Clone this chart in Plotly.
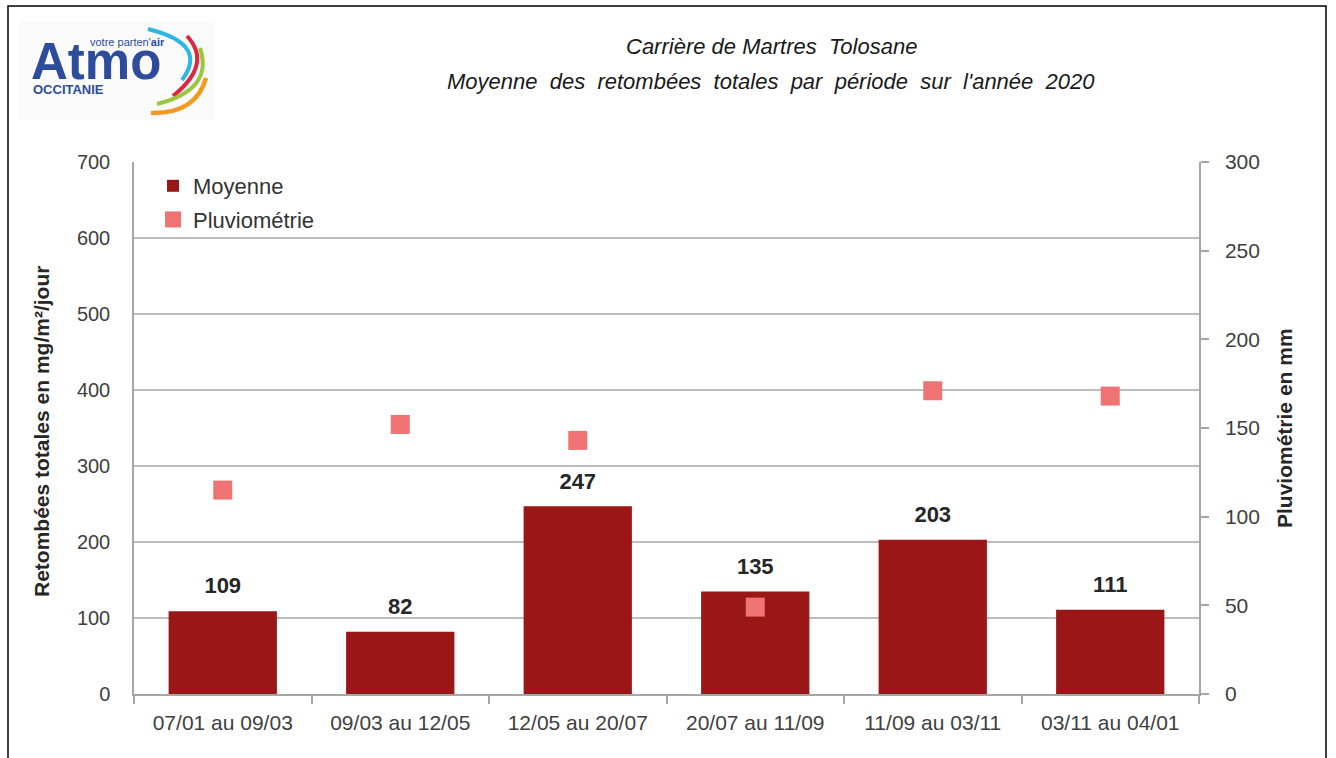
import plotly.graph_objects as go

periods = ["07/01 au 09/03", "09/03 au 12/05", "12/05 au 20/07",
           "20/07 au 11/09", "11/09 au 03/11", "03/11 au 04/01"]
moyenne = [109, 82, 247, 135, 203, 111]
pluvio = [115, 152, 143, 49, 171, 168]

W, H = 1336, 758
L, R, T, B = 134, 1199, 162, 694  # plot area in pixels


def px(x):
    return (x - L) / (R - L)


def py(y):
    return (B - y) / (B - T)


FONT = "Liberation Sans"
TXT = "#404040"

fig = go.Figure()
fig.add_trace(go.Bar(
    x=periods, y=moyenne, name="Moyenne", legendgroup="a",
    marker=dict(color="#9B1616", line=dict(width=0)),
    hoverinfo="x+y",
))
fig.add_trace(go.Scatter(
    x=periods, y=moyenne, mode="markers+text", showlegend=False,
    marker=dict(size=18, opacity=0), hoverinfo="skip",
    text=["<b>%d</b>" % v for v in moyenne], textposition="top center",
    textfont=dict(family=FONT, size=22, color="#262626"), cliponaxis=False,
))
fig.add_trace(go.Scatter(
    x=periods, y=pluvio, name="Pluviométrie", legendgroup="b", yaxis="y2",
    mode="markers",
    marker=dict(symbol="square", size=19, color="#F07373", line=dict(width=0)),
))

shapes = []
# outer frame
shapes.append(dict(type="rect", xref="paper", yref="paper",
                   x0=px(8), x1=px(1326), y0=py(775), y1=py(6),
                   line=dict(color="black", width=1.5), layer="above"))
# logo background
shapes.append(dict(type="rect", xref="paper", yref="paper",
                   x0=px(19), x1=px(215), y0=py(120), y1=py(21),
                   fillcolor="#FAFAFA", line=dict(width=0), layer="below"))


def qpath(s, c, e):
    return "M {} {} Q {} {} {} {}".format(px(s[0]), py(s[1]), px(c[0]), py(c[1]), px(e[0]), py(e[1]))


arcs = [
    ((148, 29), (209, 44), (182, 80), "#2DB7E4", 4),
    ((187, 36), (213, 64), (173, 96), "#E0263F", 4),
    ((200, 48), (214, 90), (157, 104), "#9CC63E", 4),
    ((206, 78), (196, 114), (151, 113), "#F29A1F", 4.5),
]
for s, c, e, col, w in arcs:
    shapes.append(dict(type="path", xref="paper", yref="paper",
                       path=qpath(s, c, e), line=dict(color=col, width=w)))


def ann(x, y, text, size, color, xanchor="center", angle=0, **kw):
    d = dict(x=px(x), y=py(y), xref="paper", yref="paper", showarrow=False,
             xanchor=xanchor, yanchor="middle", textangle=angle, text=text,
             font=dict(family=FONT, size=size, color=color))
    d.update(kw)
    return d


annotations = [
    ann(771, 47, "<i>Carrière de Martres  Tolosane</i>", 22, "#1a1a1a"),
    ann(771, 81, "<i>Moyenne  des  retombées  totales  par  période  sur  l'année  2020</i>", 22, "#1a1a1a"),
    ann(41, 432, "<b>Retombées totales en mg/m²/jour</b>", 21, "#262626", angle=-90),
    ann(1284, 428, "<b>Pluviométrie en mm</b>", 21, "#262626", angle=-90),
    # logo text
    ann(29, 61, "<b>Atmo</b>", 51, "#2D4C9C", xanchor="left", height=40, valign="middle"),
    ann(88, 42, "votre parten'<b>air</b>", 11, "#2D4C9C", xanchor="left"),
    ann(31, 90, "<b>OCCITANIE</b>", 13, "#2D4C9C", xanchor="left"),
]

fig.update_layout(
    width=W, height=H,
    margin=dict(l=L, r=W - R, t=T, b=H - B, pad=0),
    paper_bgcolor="white", plot_bgcolor="white",
    bargap=0.39,
    font=dict(family=FONT, size=20, color=TXT),
    showlegend=True,
    legend=dict(x=px(153), y=py(165), xanchor="left", yanchor="top",
                bgcolor="rgba(0,0,0,0)", font=dict(family=FONT, size=22, color="#333333"),
                traceorder="grouped", tracegroupgap=2, itemwidth=30),
    xaxis=dict(type="category", showline=True, linecolor="#A6A6A6", linewidth=1.5,
               ticks="outside", tickson="boundaries", ticklen=8, tickcolor="#A6A6A6",
               tickwidth=1.5, tickfont=dict(family=FONT, size=21, color=TXT),
               ticklabelstandoff=9, showgrid=False),
    yaxis=dict(range=[0, 700], dtick=100, showgrid=True, gridcolor="#BDBDBD",
               gridwidth=1.5, showline=True, linecolor="#A6A6A6", linewidth=1.5,
               ticks="", tickfont=dict(family=FONT, size=20, color=TXT),
               ticklabelstandoff=18, zeroline=False),
    yaxis2=dict(range=[0, 300], dtick=50, overlaying="y", side="right",
                showgrid=False, showline=True, linecolor="#A6A6A6", linewidth=1.5,
                ticks="outside", ticklen=8, tickcolor="#A6A6A6", tickwidth=1.5,
                tickfont=dict(family=FONT, size=21, color=TXT),
                ticklabelstandoff=12, zeroline=False),
    shapes=shapes,
    annotations=annotations,
)

fig.write_html("out.html", config={"displayModeBar": False},
               post_script="document.body.style.margin='0';document.body.style.overflow='hidden';")
